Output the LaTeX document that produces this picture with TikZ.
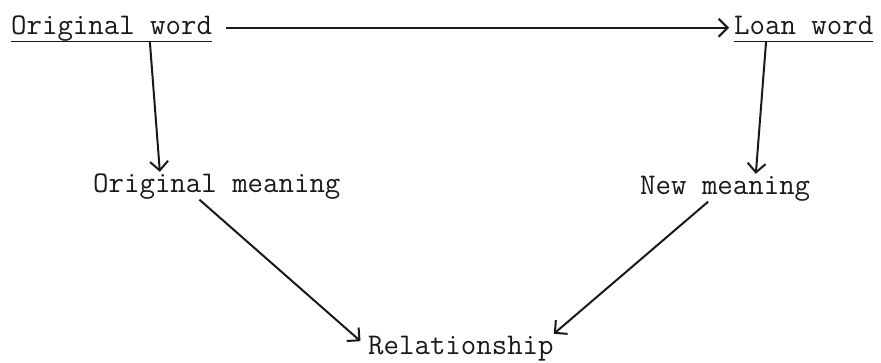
\documentclass[tikz,border=0pt]{standalone}
\usepackage{fontspec}
\usetikzlibrary{arrows.meta,positioning,calc}
\definecolor{Ink}{RGB}{25,25,25}
\tikzset{
  wbase/.style={inner sep=0pt,text=Ink,font=\ttfamily\fontsize{30}{36}\selectfont,text height=21pt,text depth=6.5pt},
  wterm/.style={wbase,anchor=base west},
  wline/.style={draw=Ink,line width=1.6pt},
  warr/.style={-{Straight Barb[length=9pt,width=18pt]},line width=2pt,draw=Ink}
}
\begin{document}
\begin{tikzpicture}[x=1pt,y=-1pt]
\useasboundingbox (0,0) rectangle (881,363);
\node[wterm] (orig) at (11,35) {Original word};
\node[wterm] (loan) at (734,35) {Loan word};
\node[wterm] (omean) at (93,193) {Original meaning};
\node[wterm] (nmean) at (640,195) {New meaning};
\node[wterm] (rel) at (368,355) {Relationship};
\draw[wline] (orig.south west) -- (orig.south east);
\draw[wline] (loan.south west) -- (loan.south east);
\draw[warr] ([xshift=14pt]orig.east) -- ([xshift=-5pt]loan.west);
\draw[warr] ($(orig.south west)!0.69!(orig.south east)$) -- ($(omean.north west)!0.27!(omean.north east)$);
\draw[warr] ($(loan.south west)!0.23!(loan.south east)$) -- ($(nmean.north west)!0.68!(nmean.north east)$);
\draw[warr,shorten >=10pt] ($(omean.south west)!0.43!(omean.south east)$) -- (rel.west);
\draw[warr] ($(nmean.south west)!0.40!(nmean.south east)$) -- (rel.north east);
\end{tikzpicture}
\end{document}
